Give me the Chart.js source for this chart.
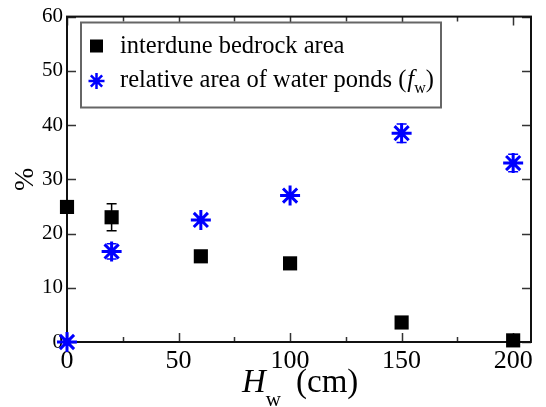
<!DOCTYPE html>
<html>
<head>
<meta charset="utf-8">
<script src="https://cdn.jsdelivr.net/npm/chart.js@4.4.0/dist/chart.umd.min.js"></script>
<style>
  html, body { margin: 0; padding: 0; background: #fff; }
</style>
</head>
<body>
<canvas id="chart" width="546" height="407"></canvas>
<script>
// water height H_w (cm)
const hw = [0, 20, 60, 100, 150, 200];
// interdune bedrock area (%)
const bedrock = [24.9, 23.0, 15.8, 14.5, 3.6, 0.3];
const bedrockErr = [0, 2.5, 0, 0, 0, 0];
// relative area of water ponds f_w (%)
const ponds = [0, 16.7, 22.5, 27.0, 38.5, 33.0];
const pondsErr = [0, 1.4, 0, 0, 1.7, 1.6];

const xTicks = [0, 50, 100, 150, 200];
const xMinorTicks = [25, 75, 125, 175];
const yTicks = [0, 10, 20, 30, 40, 50, 60];
const legendLabels = ['interdune bedrock area', 'relative area of water ponds ('];

const serif = 'Liberation Serif';
const blue = '#0000ff';
Chart.defaults.font.family = serif;

const decor = {
  id: 'decor',
  beforeDatasetsDraw(chart) {
    const ctx = chart.ctx;
    const { left, right, top, bottom } = chart.chartArea;
    const xs = chart.scales.x, ys = chart.scales.y;
    ctx.save();

    // tick marks, pointing inward on all four sides
    ctx.strokeStyle = '#333';
    ctx.lineWidth = 1.5;
    ctx.beginPath();
    xTicks.concat(xMinorTicks).forEach(v => {
      const px = Math.round(xs.getPixelForValue(v)) + 0.5;
      const len = xTicks.includes(v) ? 9 : 5;
      ctx.moveTo(px, bottom); ctx.lineTo(px, bottom - len);
      ctx.moveTo(px, top); ctx.lineTo(px, top + len);
    });
    yTicks.forEach(v => {
      const py = Math.round(ys.getPixelForValue(v)) + 0.5;
      ctx.moveTo(left, py); ctx.lineTo(left + 9, py);
      ctx.moveTo(right, py); ctx.lineTo(right - 9, py);
    });
    ctx.stroke();

    // frame
    ctx.strokeStyle = '#111';
    ctx.lineWidth = 2;
    ctx.strokeRect(left, top, right - left, bottom - top);

    // error bars
    [[bedrock, bedrockErr, '#000'], [ponds, pondsErr, blue]].forEach(([vals, errs, col]) => {
      ctx.strokeStyle = col;
      ctx.lineWidth = 1.5;
      vals.forEach((v, i) => {
        if (!errs[i]) return;
        const px = xs.getPixelForValue(hw[i]);
        const y1 = ys.getPixelForValue(v + errs[i]);
        const y2 = ys.getPixelForValue(v - errs[i]);
        ctx.beginPath();
        ctx.moveTo(px, y1); ctx.lineTo(px, y2);
        ctx.moveTo(px - 5, y1); ctx.lineTo(px + 5, y1);
        ctx.moveTo(px - 5, y2); ctx.lineTo(px + 5, y2);
        ctx.stroke();
      });
    });
    ctx.restore();
  },
  afterDraw(chart) {
    const ctx = chart.ctx;
    const { top, bottom } = chart.chartArea;
    ctx.save();
    ctx.textAlign = 'left';
    ctx.textBaseline = 'alphabetic';

    // legend box
    ctx.fillStyle = '#fff';
    ctx.fillRect(81, 22.5, 360, 85);
    ctx.strokeStyle = '#666';
    ctx.lineWidth = 2;
    ctx.strokeRect(81, 22.5, 360, 85);

    // legend markers
    ctx.fillStyle = '#000';
    ctx.fillRect(90, 39.5, 13, 13);
    ctx.strokeStyle = blue;
    ctx.lineWidth = 2.5;
    ctx.beginPath();
    const sx = 96.5, sy = 81, r = 8, d = r * Math.SQRT1_2;
    ctx.moveTo(sx - r, sy); ctx.lineTo(sx + r, sy);
    ctx.moveTo(sx, sy - r); ctx.lineTo(sx, sy + r);
    ctx.moveTo(sx - d, sy - d); ctx.lineTo(sx + d, sy + d);
    ctx.moveTo(sx - d, sy + d); ctx.lineTo(sx + d, sy - d);
    ctx.stroke();

    // legend text
    ctx.fillStyle = '#000';
    ctx.font = '24.5px "' + serif + '"';
    ctx.fillText(legendLabels[0], 120, 53);
    ctx.fillText(legendLabels[1], 120, 87);
    let tx = 120 + ctx.measureText(legendLabels[1]).width + 1;
    ctx.font = 'italic 24.5px "' + serif + '"';
    ctx.fillText('f', tx, 87);
    tx += ctx.measureText('f').width;
    ctx.font = '16px "' + serif + '"';
    ctx.fillText('w', tx, 93);
    tx += ctx.measureText('w').width;
    ctx.font = '24.5px "' + serif + '"';
    ctx.fillText(')', tx, 87);

    // y axis title
    ctx.save();
    ctx.translate(26, (top + bottom) / 2);
    ctx.rotate(-Math.PI / 2);
    ctx.textAlign = 'center';
    ctx.textBaseline = 'middle';
    ctx.font = '28px "' + serif + '"';
    ctx.fillText('%', 0, 0);
    ctx.restore();

    // x axis title
    let hx = 242;
    ctx.font = 'italic 33px "' + serif + '"';
    ctx.fillText('H', hx, 392);
    hx += ctx.measureText('H').width;
    ctx.font = '21px "' + serif + '"';
    ctx.fillText('w', hx, 406);
    ctx.font = '33px "' + serif + '"';
    ctx.fillText('(cm)', 296, 392);

    ctx.restore();
  }
};

new Chart(document.getElementById('chart'), {
  type: 'scatter',
  data: {
    datasets: [
      {
        label: legendLabels[0],
        data: hw.map((h, i) => ({ x: h, y: bedrock[i] })),
        pointStyle: 'rect',
        pointRadius: 10,
        pointHoverRadius: 10,
        backgroundColor: '#000',
        borderColor: '#000',
        borderWidth: 0,
        clip: false
      },
      {
        label: 'relative area of water ponds (fw)',
        data: hw.map((h, i) => ({ x: h, y: ponds[i] })),
        pointStyle: 'star',
        pointRadius: 10,
        pointHoverRadius: 10,
        backgroundColor: blue,
        borderColor: blue,
        borderWidth: 3,
        clip: false
      }
    ]
  },
  options: {
    responsive: false,
    animation: false,
    devicePixelRatio: 1,
    layout: { padding: { top: 15, right: 15, left: 0, bottom: 0 } },
    plugins: {
      legend: { display: false },
      tooltip: { enabled: false }
    },
    scales: {
      x: {
        type: 'linear',
        min: 0,
        max: 208,
        afterBuildTicks: s => { s.ticks = xTicks.map(v => ({ value: v })); },
        afterFit: s => { s.height = 65; s.paddingLeft = 0; s.paddingRight = 0; },
        grid: { display: false, drawTicks: false },
        border: { display: false },
        ticks: {
          autoSkip: false,
          maxRotation: 0,
          padding: 4,
          color: '#000',
          font: { family: serif, size: 26 }
        }
      },
      y: {
        min: 0,
        max: 60,
        afterBuildTicks: s => { s.ticks = yTicks.map(v => ({ value: v })); },
        afterFit: s => { s.width = 67; },
        grid: { display: false, drawTicks: false },
        border: { display: false },
        ticks: {
          padding: 4,
          color: '#000',
          font: { family: serif, size: 21 }
        }
      }
    }
  },
  plugins: [decor]
});
</script>
</body>
</html>
